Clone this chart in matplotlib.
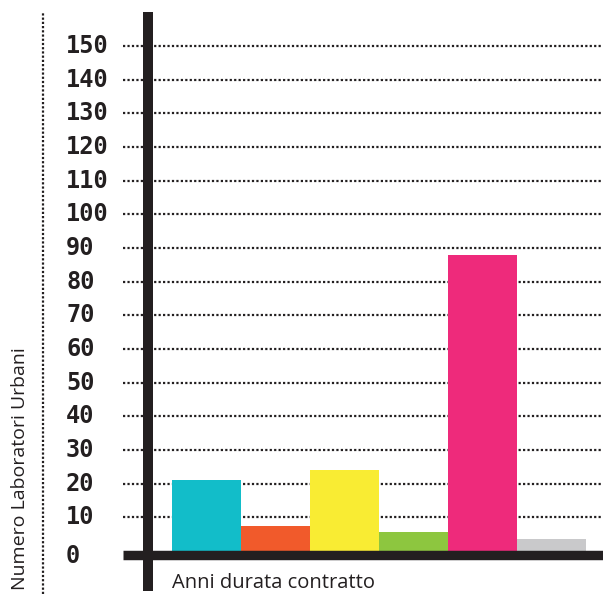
import matplotlib
matplotlib.use("Agg")
import matplotlib.pyplot as plt
import matplotlib.transforms as mtransforms

# ---- data ----
categories = ["c1", "c2", "c3", "c4", "c5", "c6"]
values = [21, 7.4, 24, 5.6, 88, 3.5]
colors = ["#12bdc9", "#f15a2b", "#f9ec33", "#8dc63f", "#ee2a7b", "#c9c9cb"]
tick_values = [0, 10, 20, 30, 40, 50, 60, 70, 80, 90, 100, 110, 120, 130, 140, 150]
tick_labels = [str(v) for v in tick_values]
x_label = "Anni durata contratto"
y_label = "Numero Laboratori Urbani"

DARK = "#231f20"
W_PX, H_PX = 603, 594

fig = plt.figure(figsize=(W_PX / 100, H_PX / 100), dpi=100)
ax = fig.add_axes([0, 0, 1, 1])
ax.axis("off")

# pixel mapping helpers (layout)
X0, BW = 206.5, 69.0          # centre of first bar, bar width in px
Z, S = 550.9, 3.366           # pixel row of value 0, px per unit
def xd(px):
    return (px - X0) / BW
def yd(py):
    return (Z - py) / S

ax.set_xlim(xd(0), xd(W_PX))
ax.set_ylim(yd(H_PX), yd(0))

# dotted gridlines
for v in tick_values[1:]:
    ax.hlines(v, xd(123), xd(W_PX), colors=DARK, linewidth=1.6,
              linestyles=(0, (1, 1.0)), zorder=1)

# bars
ax.bar(range(len(categories)), values, width=1.0, color=colors, zorder=2)

# thick axes
ax.hlines(yd(554.5), xd(123), xd(W_PX), colors=DARK, linewidth=6.8,
          zorder=3, capstyle="butt")
ax.vlines(xd(148), yd(591), yd(12), colors=DARK, linewidth=7.2,
          zorder=3, capstyle="butt")

# left dotted rule
ax.vlines(xd(42.5), yd(H_PX), yd(12), colors=DARK, linewidth=1.6,
          linestyles=(0, (1, 0.9)), zorder=1)

# tick labels (left-aligned column)
for v, lab in zip(tick_values, tick_labels):
    tr = ax.transData
    if v == 0:
        tr = ax.transData + mtransforms.ScaledTranslation(0, -5 / 100, fig.dpi_scale_trans)
    ax.text(xd(66), v, lab, ha="left", va="center", transform=tr,
            fontsize=17, fontweight="bold", family="DejaVu Sans Mono",
            color=DARK)

# axis titles
ax.text(xd(172), yd(593.5), x_label, ha="left", va="bottom",
        fontsize=14.5, family="Open Sans", color=DARK)
ax.text(xd(20), yd(590), y_label, ha="center", va="bottom", rotation=90,
        fontsize=14, family="Open Sans", color=DARK)

fig.savefig("out.png", dpi=100)
